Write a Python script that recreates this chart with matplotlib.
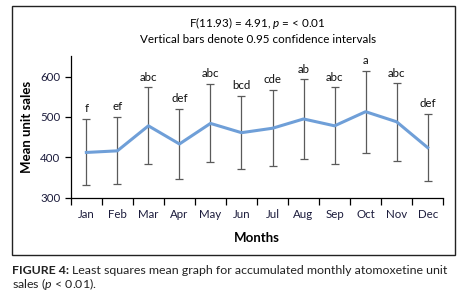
import matplotlib.pyplot as plt
from matplotlib.patches import Rectangle

plt.rcParams['font.family'] = ['Lato', 'DejaVu Sans']
plt.rcParams['mathtext.fontset'] = 'custom'
plt.rcParams['mathtext.rm'] = 'Lato'
plt.rcParams['mathtext.it'] = 'Lato:italic'
plt.rcParams['mathtext.bf'] = 'Lato:bold'

months = ['Jan', 'Feb', 'Mar', 'Apr', 'May', 'Jun', 'Jul', 'Aug', 'Sep', 'Oct', 'Nov', 'Dec']
means = [412, 416, 478, 433, 484, 461, 472, 495, 478, 513, 488, 424]
upper = [495, 499, 573, 520, 581, 553, 568, 593, 573, 615, 583, 508]
lower = [331, 333, 383, 345, 388, 370, 378, 395, 383, 410, 390, 341]
groups = ['f', 'ef', 'abc', 'def', 'abc', 'bcd', 'cde', 'ab', 'abc', 'a', 'abc', 'def']

fig = plt.figure(figsize=(4.66, 3.05), dpi=100)
ax = fig.add_axes([0.152, 0.352, 0.799, 0.463])

x = list(range(len(months)))
err_lo = [m - l for m, l in zip(means, lower)]
err_hi = [u - m for m, u in zip(means, upper)]
ax.errorbar(x, means, yerr=[err_lo, err_hi], fmt='none', ecolor='#5a5a5a',
            elinewidth=0.9, capsize=3, capthick=0.9, zorder=2)
ax.plot(x, means, color='#6f9fd8', lw=2.2, zorder=3)

for xi, u, g in zip(x, upper, groups):
    ax.annotate(g, (xi, u), xytext=(0, 3.5), textcoords='offset points',
                ha='center', va='bottom', fontsize=8.3, color='#111111')

ax.set_xlim(-0.5, 11.5)
ax.set_ylim(300, 650)
ax.set_yticks([300, 400, 500, 600])
ax.set_xticks(x)
ax.set_xticklabels(months)
ax.set_xticks([i - 0.5 for i in range(13)], minor=True)
ax.tick_params(axis='x', which='major', length=0, pad=8, labelsize=8.3, labelcolor='#1c1c3c')
ax.tick_params(axis='x', which='minor', length=5, width=0.9, direction='out')
ax.tick_params(axis='y', length=4, width=0.9, labelsize=8.3, labelcolor='#1c1c3c')
for s in ['top', 'right']:
    ax.spines[s].set_visible(False)
for s in ['left', 'bottom']:
    ax.spines[s].set_linewidth(0.9)

ax.set_xlabel('Months', fontsize=9.5, fontweight='bold', labelpad=9)
ax.set_ylabel('Mean unit sales', fontsize=9.5, fontweight='bold', labelpad=5)

fig.text(0.553, 0.925, r'F(11.93) = 4.91, $p$ = < 0.01', ha='center', va='center', fontsize=8.4)
fig.text(0.553, 0.872, 'Vertical bars denote 0.95 confidence intervals', ha='center', va='center', fontsize=8.4)

fig.patches.append(Rectangle((12 / 466, 50 / 305), 443 / 466, 249 / 305,
                             transform=fig.transFigure, fill=False, lw=1.0, ec='#222222'))

# caption: bold label followed by normal text
y1 = (305 - 271) / 305
lab = fig.text(12 / 466, y1, 'FIGURE 4:', ha='left', va='center', fontsize=8.9,
               fontweight='bold', color='#222222')
fig.canvas.draw()
bb = lab.get_window_extent().transformed(fig.transFigure.inverted())
fig.text(bb.x1 + 3 / 466, y1, 'Least squares mean graph for accumulated monthly atomoxetine unit',
         ha='left', va='center', fontsize=8.9, color='#222222')
fig.text(12 / 466, (305 - 284) / 305, r'sales ($p$ < 0.01).',
         ha='left', va='center', fontsize=8.9, color='#222222')

fig.savefig('out.png', dpi=100)
